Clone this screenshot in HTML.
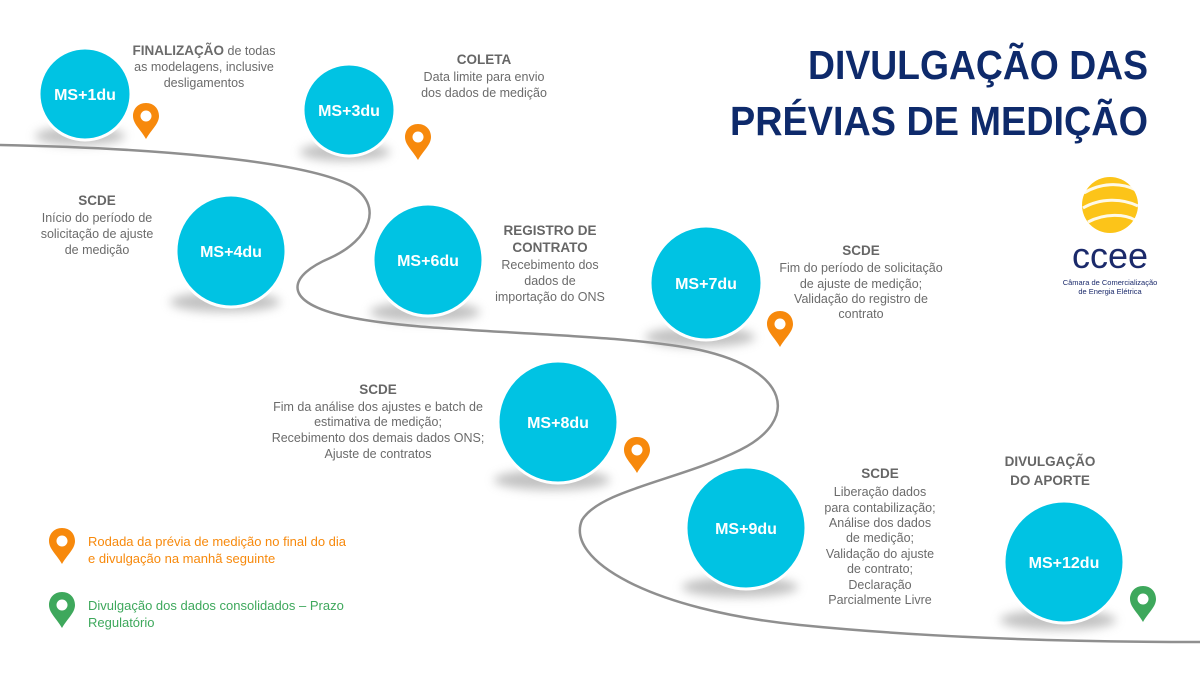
<!DOCTYPE html>
<html><head><meta charset="utf-8"><style>
html,body{margin:0;padding:0;background:#fff;}
svg{display:block}
text{font-family:"Liberation Sans",sans-serif;}
.t{fill:#6b6b6b;font-size:12.5px;text-anchor:middle}
.h{fill:#666;font-size:13.5px;font-weight:bold;text-anchor:middle}
.c{fill:#fff;font-size:16px;font-weight:bold;text-anchor:middle}
</style></head><body>
<svg width="1200" height="680" viewBox="0 0 1200 680" xmlns="http://www.w3.org/2000/svg">
<defs>
<filter id="b" x="-50%" y="-50%" width="200%" height="200%"><feGaussianBlur stdDeviation="5"/></filter>
<g id="pin"><path d="M0,0 C-8,0 -13,6 -13,13 C-13,21 -5,27 0,36 C5,27 13,21 13,13 C13,6 8,0 0,0Z"/><circle cx="0" cy="13" r="5.5" fill="#fff"/></g>
</defs>
<path d="M0,145 C150,148 300,160 350,185 C385,205 370,240 330,258 C290,275 280,300 340,315 C420,335 600,330 700,350 C790,370 800,420 740,450 C680,480 600,490 582,520 C565,560 650,610 800,625 C950,640 1100,642 1200,642" fill="none" stroke="#8f8f8f" stroke-width="2.5"/>
<g fill="#999" filter="url(#b)" opacity="0.6">
<ellipse cx="80" cy="136" rx="45" ry="9"/>
<ellipse cx="345" cy="152" rx="45" ry="9"/>
<ellipse cx="225" cy="302" rx="55" ry="10"/>
<ellipse cx="425" cy="312" rx="55" ry="10"/>
<ellipse cx="700" cy="337" rx="55" ry="10"/>
<ellipse cx="552" cy="480" rx="58" ry="10"/>
<ellipse cx="740" cy="587" rx="58" ry="10"/>
<ellipse cx="1058" cy="620" rx="58" ry="10"/>
</g>
<g fill="#00c3e3" stroke="#fff" stroke-width="3">
<ellipse cx="85" cy="94" rx="46" ry="46"/>
<ellipse cx="349" cy="110" rx="46" ry="46"/>
<ellipse cx="231" cy="251" rx="55" ry="56"/>
<ellipse cx="428" cy="260" rx="55" ry="56"/>
<ellipse cx="706" cy="283" rx="56" ry="57"/>
<ellipse cx="558" cy="422" rx="60" ry="61"/>
<ellipse cx="746" cy="528" rx="60" ry="61"/>
<ellipse cx="1064" cy="562" rx="60" ry="61"/>
</g>
<text x="85" y="100" class="c">MS+1du</text>
<text x="349" y="116" class="c">MS+3du</text>
<text x="231" y="257" class="c">MS+4du</text>
<text x="428" y="266" class="c">MS+6du</text>
<text x="706" y="289" class="c">MS+7du</text>
<text x="558" y="428" class="c">MS+8du</text>
<text x="746" y="534" class="c">MS+9du</text>
<text x="1064" y="568" class="c">MS+12du</text>
<g fill="#f7890c">
<use href="#pin" x="146" y="103"/>
<use href="#pin" x="418" y="124"/>
<use href="#pin" x="780" y="311"/>
<use href="#pin" x="637" y="437"/>
<use href="#pin" x="62" y="528"/>
</g>
<g fill="#3ea85c">
<use href="#pin" x="1143" y="586"/>
<use href="#pin" x="62" y="592"/>
</g>
<text x="204" y="55" class="t"><tspan font-weight="bold" font-size="13.5">FINALIZAÇÃO</tspan> de todas</text>
<text x="204" y="71" class="t">as modelagens, inclusive</text>
<text x="204" y="87" class="t">desligamentos</text>
<text x="484" y="64" class="h">COLETA</text>
<text x="484" y="81" class="t">Data limite para envio</text>
<text x="484" y="97" class="t">dos dados de medição</text>
<text x="97" y="205" class="h">SCDE</text>
<text x="97" y="222" class="t">Início do período de</text>
<text x="97" y="238" class="t">solicitação de ajuste</text>
<text x="97" y="254" class="t">de medição</text>
<text x="550" y="235" class="h">REGISTRO DE</text>
<text x="550" y="252" class="h">CONTRATO</text>
<text x="550" y="269" class="t">Recebimento dos</text>
<text x="550" y="285" class="t">dados de</text>
<text x="550" y="301" class="t">importação do ONS</text>
<text x="861" y="255" class="h">SCDE</text>
<text x="861" y="272" class="t">Fim do período de solicitação</text>
<text x="861" y="288" class="t">de ajuste de medição;</text>
<text x="861" y="303" class="t">Validação do registro de</text>
<text x="861" y="318" class="t">contrato</text>
<text x="378" y="394" class="h">SCDE</text>
<text x="378" y="411" class="t">Fim da análise dos ajustes e batch de</text>
<text x="378" y="426" class="t">estimativa de medição;</text>
<text x="378" y="442" class="t">Recebimento dos demais dados ONS;</text>
<text x="378" y="458" class="t">Ajuste de contratos</text>
<text x="880" y="478" class="h">SCDE</text>
<text x="880" y="496" class="t">Liberação dados</text>
<text x="880" y="512" class="t">para contabilização;</text>
<text x="880" y="527" class="t">Análise dos dados</text>
<text x="880" y="542" class="t">de medição;</text>
<text x="880" y="558" class="t">Validação do ajuste</text>
<text x="880" y="573" class="t">de contrato;</text>
<text x="880" y="589" class="t">Declaração</text>
<text x="880" y="604" class="t">Parcialmente Livre</text>
<text x="1050" y="466" class="h">DIVULGAÇÃO</text>
<text x="1050" y="485" class="h">DO APORTE</text>
<text x="88" y="546" fill="#f7890c" font-size="13">Rodada da prévia de medição no final do dia</text>
<text x="88" y="563" fill="#f7890c" font-size="13">e divulgação na manhã seguinte</text>
<text x="88" y="610" fill="#3ea85c" font-size="13">Divulgação dos dados consolidados – Prazo</text>
<text x="88" y="627" fill="#3ea85c" font-size="13">Regulatório</text>
<text x="1148" y="79" text-anchor="end" fill="#0e2a6b" font-size="41" font-weight="bold" textLength="340" lengthAdjust="spacingAndGlyphs">DIVULGAÇÃO DAS</text>
<text x="1148" y="135" text-anchor="end" fill="#0e2a6b" font-size="41" font-weight="bold" textLength="418" lengthAdjust="spacingAndGlyphs">PRÉVIAS DE MEDIÇÃO</text>
<circle cx="1110" cy="205" r="28" fill="#fcc419"/>
<g stroke="#fff" stroke-width="3" fill="none" opacity="0.9">
<path d="M1084,193 C1100,183 1120,182 1136,190"/>
<path d="M1083,208 C1100,198 1122,198 1138,206"/>
<path d="M1088,222 C1105,213 1125,214 1135,220"/>
</g>
<text x="1110" y="268" text-anchor="middle" fill="#1b2a6b" font-size="36">ccee</text>
<text x="1110" y="285" text-anchor="middle" fill="#1b2a6b" font-size="7.5">Câmara de Comercialização</text>
<text x="1110" y="294" text-anchor="middle" fill="#1b2a6b" font-size="7.5">de Energia Elétrica</text>
</svg>
</body></html>
